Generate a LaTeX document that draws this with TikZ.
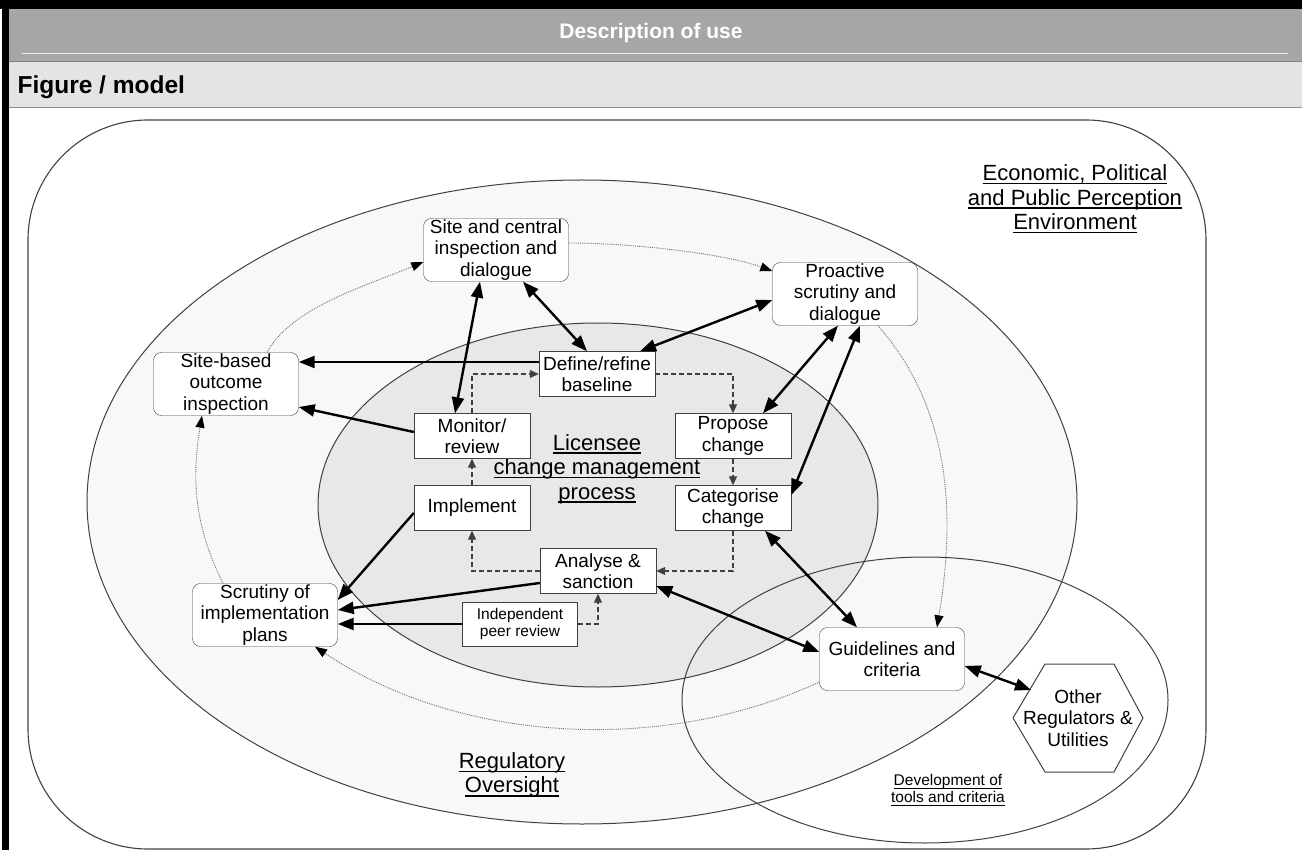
\documentclass[tikz,border=0pt]{standalone}
\usepackage{fontspec}
\setmainfont{Liberation Sans}
\usetikzlibrary{arrows.meta}
\definecolor{hdrGray}{HTML}{A6A6A6}
\definecolor{subGray}{HTML}{E4E4E4}
\definecolor{regFill}{HTML}{F8F8F8}
\definecolor{licFill}{HTML}{E8E8E8}
\definecolor{edgeGray}{HTML}{404040}
\definecolor{dotGray}{HTML}{707070}
\newcommand{\ulined}[1]{\setbox0\hbox{#1}\rlap{\vrule height -2.2pt depth 3.6pt width \wd0}\box0}

\begin{document}
\begin{tikzpicture}[x=1pt, y=-1pt,
      regbox/.style={draw=edgeGray, fill=white, rounded corners=8pt, minimum width=145pt, minimum height=63pt, inner sep=0pt, align=center, font=\fontsize{19}{21.5}\selectfont},
      procbox/.style={draw=edgeGray, fill=white, minimum width=116pt, minimum height=45pt, inner sep=0pt, align=center, font=\fontsize{19}{21.5}\selectfont},
      lbl/.style={align=center, font=\fontsize{22}{24.5}\selectfont},
      strong/.style={line width=2.4pt, >={Triangle[length=16pt,width=12pt]}},
      flow/.style={draw=black!75, line width=1.1pt, dash pattern=on 5pt off 3pt, ->, >={Triangle[length=9pt,width=8pt]}},
      dotflow/.style={draw=dotGray, line width=0.9pt, densely dotted, -{Triangle[length=12pt,width=9pt,black]}}]
    \useasboundingbox (0,0) rectangle (1302,850);
    \fill[black] (0,0) rectangle (1302,9);
    \fill[black] (2,0) rectangle (9,850);
    \fill[hdrGray] (9,9) rectangle (1302,61);
    \draw[white!80!hdrGray] (22,53) -- (1288,53);
    \draw[black!50] (9,61.5) -- (1302,61.5);
    \fill[subGray] (9,62) rectangle (1302,107);
    \draw[black!45] (9,107) -- (1302,107);
    \node[font=\bfseries\fontsize{21}{24}\selectfont, text=white] (ttl) at (651,33) {Description of use};
    \node[font=\bfseries\fontsize{24.5}{27}\selectfont, anchor=west] (fig) at (14,87) {Figure / model};

    \draw[edgeGray, line width=1.1pt, rounded corners=120pt] (28,120) rectangle (1206,849);
    \draw[edgeGray, fill=regFill, line width=1pt] (582,502) ellipse [x radius=495, y radius=322];
    \draw[edgeGray, fill=licFill, line width=1pt] (598,505) ellipse [x radius=280, y radius=182];
    \draw[edgeGray, line width=1pt] (925,700) ellipse [x radius=243, y radius=143];

    \node[lbl] (env) at (1075,199) {\ulined{Economic, Political}\\\ulined{and Public Perception}\\\ulined{Environment}};
    \node[lbl] (reg) at (512,775) {\ulined{Regulatory}\\\ulined{Oversight}};
    \node[lbl] (lic) at (597,469) {\ulined{Licensee}\\\ulined{change management}\\\ulined{process}};
    \node[align=center, font=\fontsize{15.5}{17}\selectfont] (dev) at (948,790) {\ulined{Development of}\\\ulined{tools and criteria}};

    \node[regbox] (site) at (496,250) {Site and central\\inspection and\\dialogue};
    \node[regbox] (pro) at (845,294) {Proactive\\scrutiny and\\dialogue};
    \node[regbox] (sbo) at (226,384) {Site-based\\outcome\\inspection};
    \node[regbox] (scr) at (265,615) {Scrutiny of\\implementation\\plans};
    \node[regbox] (gui) at (892,659) {Guidelines and\\criteria};
    \filldraw[draw=edgeGray, fill=white, line width=1pt] (1013,718) -- (1045,664) -- (1114,664) -- (1143,718) -- (1114,772) -- (1045,772) -- cycle;
    \node[align=center, font=\fontsize{19}{21.5}\selectfont] (oth) at (1078,718) {Other\\Regulators \&\\Utilities};
    \coordinate (othin) at (1031,690);

    \node[procbox] (def) at (597,374) {Define/refine\\baseline};
    \node[procbox] (mon) at (472,436) {Monitor/\\review};
    \node[procbox] (prop) at (733,436) {Propose\\change};
    \node[procbox] (imp) at (472,508) {Implement};
    \node[procbox] (cat) at (733,508) {Categorise\\change};
    \node[procbox] (ana) at (598,571) {Analyse \&\\sanction};
    \node[procbox, minimum width=115pt, minimum height=44pt, font=\fontsize{15.5}{17.5}\selectfont] (ind) at (520,624) {Independent\\peer review};

    \draw[flow] (mon.north) |- (def.west);
    \draw[flow] (def.east) -| (prop.north);
    \draw[flow] (prop.south) -- (cat.north);
    \draw[flow] (cat.south) |- (ana.east);
    \draw[flow] (ana.west) -| (imp.south);
    \draw[flow] (imp.north) -- (mon.south);
    \draw[flow] (ind.east) -| (ana.south);

    \draw[strong, <->] ([xshift=-16pt]site.south) -- ([xshift=-17pt]mon.north);
    \draw[strong, <->] ([xshift=27pt]site.south) -- ([xshift=-10pt]def.north);
    \draw[strong, <->] ([xshift=43pt]def.north) -- ([yshift=-6pt]pro.west);
    \draw[strong, <->] ([xshift=-7pt]pro.south) -- ([xshift=30pt]prop.north);
    \draw[strong, <->] ([xshift=15pt]pro.south) -- ([yshift=13pt]cat.east);
    \draw[strong, ->] ([yshift=12pt]def.west) -- ([yshift=12pt]def.west -| sbo.east);
    \draw[strong, ->] ([yshift=4pt]mon.west) -- ([yshift=-23pt]sbo.east);
    \draw[strong, ->] ([yshift=-5pt]imp.west) -- ([yshift=15pt]scr.east);
    \draw[strong, ->] ([yshift=-12pt]ana.west) -- ([yshift=5pt]scr.east);
    \draw[strong, ->] (ind.west) -- (ind.west -| scr.east);
    \draw[strong, <->] ([yshift=-15pt]ana.east) -- ([yshift=7pt]gui.west);
    \draw[strong, <->] ([xshift=32pt]cat.south) -- ([xshift=-35pt]gui.north);
    \draw[strong, <->] ([yshift=-7pt]gui.east) -- (othin);

    \draw[dotflow] ([xshift=-42pt]scr.north) .. controls +(-30,-60) and +(-10,60) .. ([xshift=-24pt]sbo.south);
    \draw[dotflow] ([xshift=41pt]sbo.north) .. controls +(25,-45) and +(-60,25) .. ([yshift=-12pt]site.west);
    \draw[dotflow] ([yshift=7pt]site.east) .. controls +(60,0) and +(-50,-18) .. ([yshift=23pt]pro.west);
    \draw[dotflow] ([xshift=33pt]pro.south) .. controls +(70,80) and +(20,-120) .. ([xshift=45pt]gui.north);
    \draw[dotflow] ([yshift=-23pt]gui.west) .. controls +(-150,70) and +(150,100) .. ([xshift=50pt]scr.south);
  \end{tikzpicture}
\end{document}
